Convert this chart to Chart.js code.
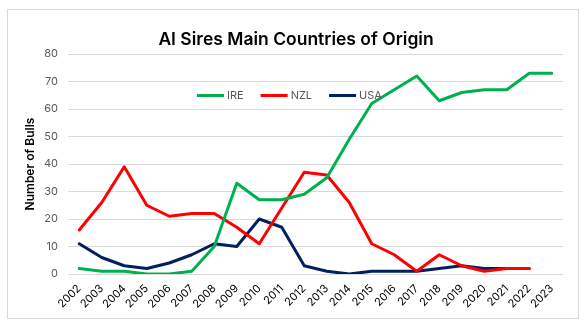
<!DOCTYPE html>
<html>
<head>
<meta charset="utf-8">
<script src="https://cdn.jsdelivr.net/npm/chart.js@4"></script>
<style>
  html, body { margin: 0; padding: 0; background: #fff; }
  #wrap { position: relative; width: 588px; height: 326px; }
</style>
</head>
<body>
<div id="wrap"><canvas id="c" width="588" height="326"></canvas></div>
<script>
const years = ['2002','2003','2004','2005','2006','2007','2008','2009','2010','2011','2012',
               '2013','2014','2015','2016','2017','2018','2019','2020','2021','2022','2023'];
const ire = [2, 1, 1, 0, 0, 1, 10, 33, 27, 27, 29, 35, 49, 62, 67, 72, 63, 66, 67, 67, 73, 73];
const nzl = [16, 26, 39, 25, 21, 22, 22, 17, 11, 24, 37, 36, 26, 11, 7, 1, 7, 3, 1, 2, 2, null];
const usa = [11, 6, 3, 2, 4, 7, 11, 10, 20, 17, 3, 1, 0, 1, 1, 1, 2, 3, 2, 2, 2, null];
const yTicks = [0, 10, 20, 30, 40, 50, 60, 70, 80];
const chartTitle = 'AI Sires Main Countries of Origin';

const FONT = 'Inter, "Open Sans", sans-serif';

// outer frame around the chart, plus the heading
const framePlugin = {
  id: 'frame',
  beforeDraw(chart) {
    const ctx = chart.ctx;
    ctx.save();
    ctx.fillStyle = '#ffffff';
    ctx.fillRect(0, 0, chart.width, chart.height);
    ctx.strokeStyle = '#d9d9d9';
    ctx.lineWidth = 1;
    ctx.strokeRect(7.5, 9.5, 571, 309);
    ctx.fillStyle = '#000000';
    ctx.font = '600 17.5px ' + FONT;
    ctx.textAlign = 'center';
    ctx.textBaseline = 'middle';
    ctx.fillText(chartTitle, 296, 40);
    ctx.restore();
  }
};

// legend drawn inside the plot area
const innerLegend = {
  id: 'innerLegend',
  afterDatasetsDraw(chart) {
    const ctx = chart.ctx;
    const y = 95.5;
    ctx.save();
    ctx.font = '11px ' + FONT;
    ctx.textBaseline = 'middle';
    ctx.textAlign = 'left';
    const lineW = 27, gapText = 3, gapItem = 17;
    let x = 197;
    chart.data.datasets.forEach(d => {
      ctx.strokeStyle = d.borderColor;
      ctx.lineWidth = 3;
      ctx.lineCap = 'butt';
      ctx.beginPath();
      ctx.moveTo(x, y);
      ctx.lineTo(x + lineW, y);
      ctx.stroke();
      x += lineW + gapText;
      ctx.fillStyle = '#595959';
      ctx.fillText(d.label, x, y + 0.5);
      x += ctx.measureText(d.label).width + gapItem;
    });
    ctx.restore();
  }
};

new Chart(document.getElementById('c'), {
  type: 'line',
  data: {
    labels: years,
    datasets: [
      { label: 'IRE', data: ire, borderColor: '#00b050', backgroundColor: '#00b050' },
      { label: 'NZL', data: nzl, borderColor: '#ff0000', backgroundColor: '#ff0000' },
      { label: 'USA', data: usa, borderColor: '#002060', backgroundColor: '#002060' }
    ]
  },
  options: {
    responsive: false,
    animation: false,
    devicePixelRatio: 1,
    layout: { padding: { left: 0, right: 25, top: 54, bottom: 0 } },
    elements: {
      line: { borderWidth: 3, tension: 0, borderJoinStyle: 'round', borderCapStyle: 'round' },
      point: { radius: 0, hoverRadius: 0 }
    },
    plugins: {
      legend: { display: false },
      tooltip: { enabled: false },
      title: { display: false }
    },
    scales: {
      x: {
        offset: true,
        grid: { display: false, drawTicks: false },
        border: { display: false },
        ticks: {
          autoSkip: false,
          minRotation: 45,
          maxRotation: 45,
          padding: 8,
          color: '#000000',
          font: { family: FONT, size: 11 }
        },
        afterFit(s) { s.height = 52; }
      },
      y: {
        min: 0,
        max: 80,
        afterBuildTicks(s) { s.ticks = yTicks.map(v => ({ value: v })); },
        grid: { color: '#d9d9d9', lineWidth: 1, drawTicks: false },
        border: { display: false },
        ticks: {
          padding: 10,
          color: '#595959',
          font: { family: FONT, size: 11 }
        },
        title: {
          display: true,
          text: 'Number of Bulls',
          color: '#000000',
          font: { family: FONT, size: 12, weight: '600' },
          padding: { top: 23, bottom: 0 }
        },
        afterFit(s) { s.width = 68; }
      }
    }
  },
  plugins: [framePlugin, innerLegend]
});
</script>
</body>
</html>
